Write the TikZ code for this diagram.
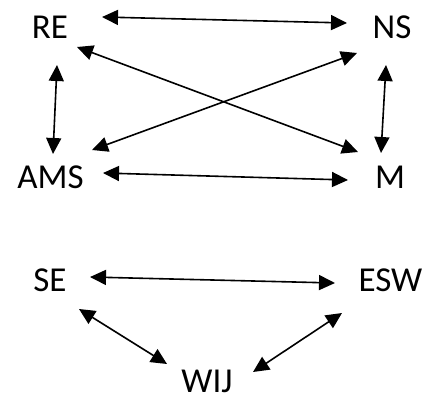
\documentclass[tikz,border=0pt]{standalone}
\usepackage{fontspec}
\setmainfont{Carlito}
\usetikzlibrary{arrows.meta}
\begin{document}
\begin{tikzpicture}[x=1pt,y=-1pt,
  lbl/.style={font=\fontsize{35}{35}\selectfont, inner sep=0pt, anchor=base},
  link/.style={line width=1.6pt, {Triangle[length=16pt,width=15pt]}-{Triangle[length=16pt,width=15pt]}}]
\useasboundingbox (0,0) rectangle (425,396);
\node[lbl] (RE)  at (50,39)   {RE};
\node[lbl] (NS)  at (392,39)  {NS};
\node[lbl] (AMS) at (50.5,188) {AMS};
\node[lbl] (M)   at (390,188) {M};
\node[lbl] (SE)  at (50,291)  {SE};
\node[lbl] (ESW) at (390.5,291) {ESW};
\node[lbl] (WIJ) at (207,392) {WIJ};
\draw[link] ([shift={(52,-22)}]RE.base) -- ([shift={(-45,-16)}]NS.base);
\draw[link] ([shift={(27,8)}]RE.base) -- ([shift={(-32,-36)}]M.base);
\draw[link] ([shift={(-35,14)}]NS.base) -- ([shift={(41.5,-38)}]AMS.base);
\draw[link] ([shift={(7,26)}]RE.base) -- ([shift={(2.5,-34)}]AMS.base);
\draw[link] ([shift={(-6,26)}]NS.base) -- ([shift={(-9,-35)}]M.base);
\draw[link] ([shift={(52.5,-15)}]AMS.base) -- ([shift={(-42,-8)}]M.base);
\draw[link] ([shift={(40,-14)}]SE.base) -- ([shift={(-55.5,-8)}]ESW.base);
\draw[link] ([shift={(29,18)}]SE.base) -- ([shift={(-40,-28)}]WIJ.base);
\draw[link] ([shift={(-48.5,22)}]ESW.base) -- ([shift={(46,-20)}]WIJ.base);
\end{tikzpicture}
\end{document}
